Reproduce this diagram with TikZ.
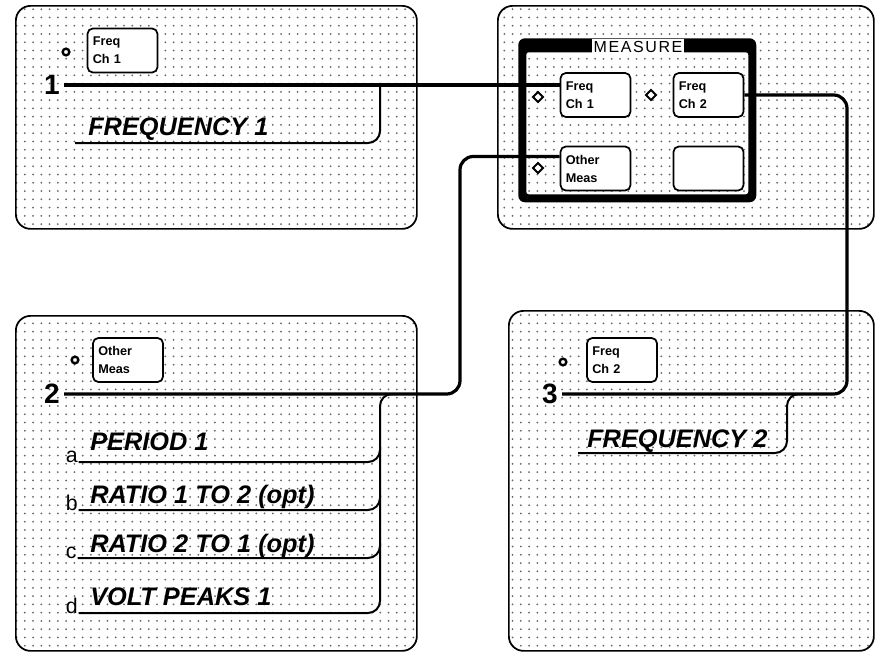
\documentclass[tikz,border=0pt]{standalone}
\usepackage{fontspec}
\setmainfont{Liberation Sans}
\usetikzlibrary{positioning,patterns.meta,shapes.geometric,calc}
\tikzset{
  dotfill/.style={pattern={Dots[distance=6.2pt,radius=0.75pt]}, pattern color=black!60},
  panel/.style={rectangle, rounded corners=11pt, draw=black, line width=1.3pt, dotfill, anchor=north west, inner sep=0pt},
  menubox/.style={rectangle, rounded corners=4pt, draw=black, line width=1.3pt, fill=white, text width=44.5pt, inner xsep=4pt, minimum height=33pt, align=left, font=\fontsize{9.5}{13.5}\selectfont\bfseries},
  marker/.style={circle, draw=black, line width=1.8pt, minimum size=5pt, inner sep=0pt, fill=white},
  pick/.style={diamond, draw=black, line width=1.4pt, minimum size=8pt, inner sep=0pt, fill=white},
  chnum/.style={font=\fontsize{21}{21}\selectfont\bfseries, inner sep=3pt, anchor=east},
  itemletter/.style={font=\fontsize{16}{16}\selectfont, inner sep=0.5pt, anchor=base west},
  funclabel/.style={font=\fontsize{19}{19}\selectfont\bfseries\itshape, inner sep=0pt, anchor=base west},
  wire/.style={line width=2.4pt, rounded corners=10pt},
  branch/.style={line width=1.5pt, rounded corners=9pt},
}

\begin{document}
\begin{tikzpicture}[x=0.75pt, y=-0.75pt]
  \fill[white] (0,0) rectangle (876,654);
  \useasboundingbox (0,0) rectangle (876,654);
  % panels
  \node[panel, minimum width=300.75pt, minimum height=167.25pt] (ptl) at (15,5) {};
  \node[panel, minimum width=282pt, minimum height=167.25pt] (ptr) at (497,5) {};
  \node[panel, minimum width=300.75pt, minimum height=251.25pt] (pbl) at (15,315) {};
  \node[panel, minimum width=273.75pt, minimum height=255pt] (pbr) at (508,310) {};
  % measure menu
  \node[anchor=north west, fill=black, rounded corners=5pt, minimum width=178.5pt, minimum height=123pt, inner sep=0pt] (mframe) at (518,38) {};
  \node[anchor=north west, preaction={fill=white}, dotfill, rounded corners=2pt, minimum width=166.5pt, minimum height=106.5pt, inner sep=0pt] (mface) at (526,52) {};
  \node[fill=white, font=\fontsize{12}{12}\selectfont\addfontfeature{LetterSpace=10}, inner sep=1.5pt] (mtitle) at (638,46.5) {MEASURE};
  \node[menubox] (mfreqone) at (595.5,95) {Freq\\Ch 1};
  \node[menubox] (mfreqtwo) at (708.5,95) {Freq\\Ch 2};
  \node[menubox] (mother) at (595.5,168.5) {Other\\Meas};
  \node[menubox] (mblank) at (708.5,168.5) {};
  \node[pick] (pickone) at (538,97) {};
  \node[pick] (picktwo) at (651,95) {};
  \node[pick] (pickother) at (538,168) {};
  % channel panels
  \node[marker] (mkone) at (66,52) {};
  \node[menubox] (tfreq) at (122.5,50.5) {Freq\\Ch 1};
  \node[chnum] (numone) at (64,85) {1};
  \node[marker] (mktwo) at (75,360) {};
  \node[menubox] (bother) at (128,360) {Other\\Meas};
  \node[chnum] (numtwo) at (64,394) {2};
  \node[marker] (mkthree) at (563,362) {};
  \node[menubox] (bfreq) at (622,360) {Freq\\Ch 2};
  \node[chnum] (numthree) at (562,394) {3};
  % wires
  \coordinate (bendtwo) at (460,394);
  \coordinate (bendthree) at (847,394);
  \draw[wire] (numone.east) -- (numone.east -| mfreqone.west);
  \draw[wire] ([yshift=9pt]mother.west) -| (bendtwo) -- (numtwo.east);
  \draw[wire] (mfreqtwo.east) -| (bendthree) -- (numthree.east);
  % functions
  \node[funclabel] (freqone) at (88,135) {FREQUENCY 1};
  \coordinate (jone) at (380,85);
  \coordinate (endone) at (75,143);
  \draw[branch] (jone) |- (endone);
  \foreach \l/\y/\ty/\txt in {a/462/450/PERIOD 1, b/510/503/RATIO 1 TO 2 (opt), c/558/552/RATIO 2 TO 1 (opt), d/613/605/VOLT PEAKS 1} {
    \node[itemletter] (let\l) at (65,\y) {\l};
    \node[funclabel] (item\l) at (90,\ty) {\txt};
  }
  \coordinate (jtwo) at (398,394);
  \coordinate (trunkbot) at (380,613);
  \draw[branch] (jtwo) -| (trunkbot) -- (letd.base east);
  \foreach \l/\y in {a/462, b/510, c/558}
    \draw[branch] (let\l.base east) -| (380,{\y-15});
  \node[funclabel] (freqtwo) at (587,447) {FREQUENCY 2};
  \coordinate (jthree) at (803,394);
  \coordinate (endthree) at (578,453);
  \draw[branch] (jthree) -| ($(jthree |- endthree)+(-16,0)$) -- (endthree);
\end{tikzpicture}
\end{document}
